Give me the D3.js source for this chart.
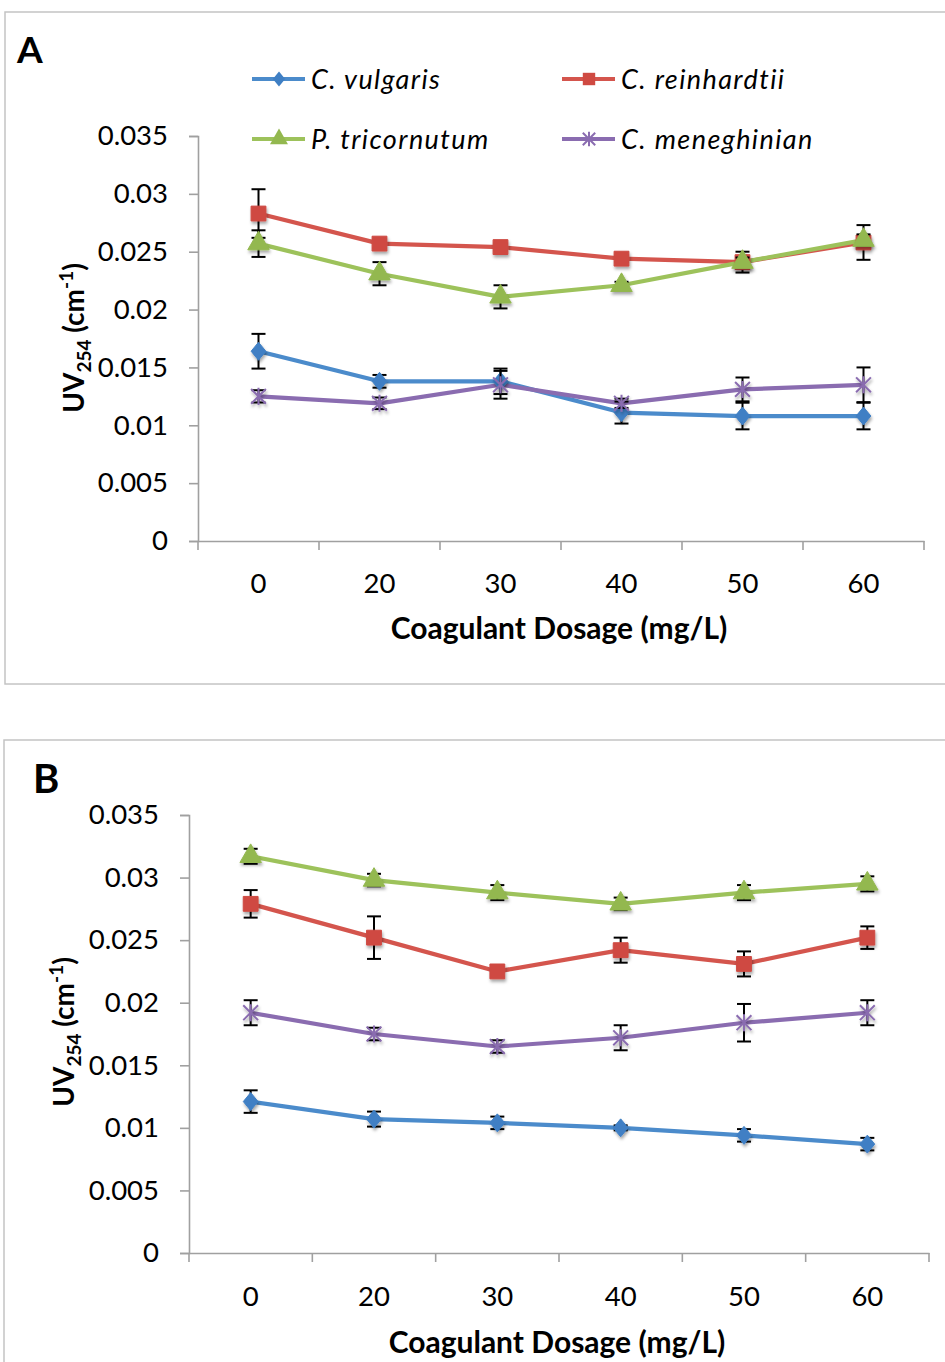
<!DOCTYPE html>
<html>
<head>
<meta charset="utf-8">
<script src="https://cdn.jsdelivr.net/npm/d3@7"></script>
<style>
  html, body { margin: 0; padding: 0; background: #ffffff; }
  svg { display: block; }
  text { font-family: Lato, "Open Sans", sans-serif; fill: #000; }
</style>
</head>
<body>
<script>
// Coagulant dosage categories (mg/L)
const dosages = ["0", "20", "30", "40", "50", "60"];

// Y-axis ticks and their labels
const yTickValues = [0, 0.005, 0.01, 0.015, 0.02, 0.025, 0.03, 0.035];
const yTickLabels = ["0", "0.005", "0.01", "0.015", "0.02", "0.025", "0.03", "0.035"];

// Species names (legend order)
const species = ["C. vulgaris", "C. reinhardtii", "P. tricornutum", "C. meneghinian"];

// Panel A: mean UV254 and error (±) per dosage
const vulgarisA      = [0.0164, 0.0138, 0.0138, 0.0111, 0.0108, 0.0108];
const vulgarisAErr   = [0.0015, 0.00055, 0.0011, 0.00095, 0.00115, 0.00115];
const reinhardtiiA   = [0.0283, 0.0257, 0.0254, 0.0244, 0.0241, 0.0258];
const reinhardtiiAErr= [0.0021, 0.0004, 0.0003, 0.0003, 0.0009, 0.0015];
const tricornutumA   = [0.0257, 0.0231, 0.0211, 0.0221, 0.0241, 0.0260];
const tricornutumAErr= [0.00115, 0.0010, 0.0010, 0.0003, 0.0004, 0.0005];
const meneghinianA   = [0.0125, 0.0119, 0.0135, 0.0119, 0.0131, 0.0135];
const meneghinianAErr= [0.00053, 0.0005, 0.0012, 0.0004, 0.00103, 0.0015];

// Panel B: mean UV254 and error (±) per dosage
const vulgarisB      = [0.0121, 0.0107, 0.0104, 0.0100, 0.0094, 0.0087];
const vulgarisBErr   = [0.0009, 0.0006, 0.0005, 0.0002, 0.0005, 0.0005];
const reinhardtiiB   = [0.0279, 0.0252, 0.0225, 0.0242, 0.0231, 0.0252];
const reinhardtiiBErr= [0.0011, 0.0017, 0.0004, 0.0010, 0.0010, 0.0009];
const tricornutumB   = [0.0317, 0.0298, 0.0288, 0.0279, 0.0288, 0.0295];
const tricornutumBErr= [0.0006, 0.0005, 0.0006, 0.0005, 0.0006, 0.0006];
const meneghinianB   = [0.0192, 0.0175, 0.0165, 0.0172, 0.0184, 0.0192];
const meneghinianBErr= [0.0010, 0.0005, 0.0005, 0.0010, 0.0015, 0.0010];

const colors = ["#4b8bcb", "#d4554d", "#9dc25b", "#8a6cb0"];
const markerFill = ["#3f7fc4", "#cf4a42", "#93b84f", "#8a6cb0"];

// Star marker (x with a vertical stroke), used for the fourth series
const symbolStar = {
  draw(ctx, size) {
    const r = Math.sqrt(size) / 2;
    ctx.moveTo(-r, -r); ctx.lineTo(r, r);
    ctx.moveTo(-r, r); ctx.lineTo(r, -r);
    ctx.moveTo(0, -r * 1.15); ctx.lineTo(0, r * 1.15);
  }
};
// Taller diamond
const symbolTallDiamond = {
  draw(ctx, size) {
    const h = Math.sqrt(size) * 0.62, w = h * 0.82;
    ctx.moveTo(0, -h); ctx.lineTo(w, 0); ctx.lineTo(0, h); ctx.lineTo(-w, 0); ctx.closePath();
  }
};
const symbolTypes = [symbolTallDiamond, d3.symbolSquare, d3.symbolTriangle, symbolStar];
const symbolSizes = [210, 220, 200, 220];

const svg = d3.select("body").append("svg")
  .attr("width", 945).attr("height", 1362);

const defs = svg.append("defs");
const shadow = defs.append("filter").attr("id", "shadow")
  .attr("x", "-50%").attr("y", "-50%").attr("width", "200%").attr("height", "200%");
shadow.append("feDropShadow").attr("dx", 1).attr("dy", 2.5)
  .attr("stdDeviation", 1.6).attr("flood-color", "#000").attr("flood-opacity", 0.35);

function marker(g, i, x, y) {
  const p = g.append("path")
    .attr("transform", `translate(${x},${y})`)
    .attr("d", d3.symbol().type(symbolTypes[i]).size(symbolSizes[i])())
    .attr("filter", "url(#shadow)");
  if (i === 3) {
    p.attr("fill", "none").attr("stroke", markerFill[i]).attr("stroke-width", 2);
  } else {
    p.attr("fill", markerFill[i]).attr("stroke", markerFill[i]).attr("stroke-width", 1);
  }
  return p;
}

function drawPanel(cfg) {
  const g = svg.append("g");

  // panel frame
  g.append("rect")
    .attr("x", cfg.frame[0]).attr("y", cfg.frame[1])
    .attr("width", cfg.frame[2]).attr("height", cfg.frame[3])
    .attr("fill", "#fff").attr("stroke", "#c4c4c4").attr("stroke-width", 1.5);

  const x = d3.scaleBand().domain(dosages).range([cfg.x0, cfg.x1]).padding(0);
  const y = d3.scaleLinear().domain([0, 0.035]).range([cfg.yBottom, cfg.yTop]);
  const cx = d => x(d) + x.bandwidth() / 2;

  // y axis
  const yAxis = g.append("g")
    .attr("transform", `translate(${cfg.x0},0)`)
    .call(d3.axisLeft(y).tickValues(yTickValues).tickSize(9).tickPadding(21)
      .tickFormat((d, i) => yTickLabels[i]));
  yAxis.select(".domain").attr("stroke", "#a0a0a0").attr("stroke-width", 1.6);
  yAxis.selectAll(".tick line").attr("stroke", "#a0a0a0").attr("stroke-width", 1.6);
  yAxis.selectAll(".tick text").attr("font-size", 27.5).attr("font-family", "Lato").attr("fill", "#000");

  // x axis: labels centered on categories, tick marks on category boundaries
  const xAxis = g.append("g")
    .attr("transform", `translate(0,${cfg.yBottom})`)
    .call(d3.axisBottom(x).tickSize(0).tickPadding(cfg.xLabelPad));
  xAxis.select(".domain").attr("stroke", "#a0a0a0").attr("stroke-width", 1.6);
  xAxis.selectAll(".tick text").attr("font-size", 27.5).attr("font-family", "Lato").attr("fill", "#000");
  const bounds = dosages.map(d => x(d)).concat([x(dosages[dosages.length - 1]) + x.bandwidth()]);
  xAxis.selectAll("line.bound").data(bounds).join("line")
    .attr("class", "bound")
    .attr("x1", d => d).attr("x2", d => d)
    .attr("y1", 0).attr("y2", 9)
    .attr("stroke", "#a0a0a0").attr("stroke-width", 1.6);

  // axis titles
  g.append("text")
    .attr("x", (cfg.x0 + cfg.x1) / 2 + cfg.xTitleShift).attr("y", cfg.xTitleY)
    .attr("text-anchor", "middle").attr("font-size", 30).attr("font-weight", 700)
    .text("Coagulant Dosage (mg/L)");

  const yt = g.append("text")
    .attr("transform", `translate(${cfg.yTitleX},${cfg.yTitleY}) rotate(-90)`)
    .attr("text-anchor", "middle").attr("font-size", 28).attr("font-weight", 700);
  yt.append("tspan").text("UV");
  yt.append("tspan").attr("font-size", 19).attr("dy", 7).text("254");
  yt.append("tspan").attr("dy", -7).text(" (cm");
  yt.append("tspan").attr("font-size", 19).attr("dy", -11).text("-1");
  yt.append("tspan").attr("dy", 11).text(")");

  // panel letter
  g.append("text")
    .attr("x", cfg.letterX).attr("y", cfg.letterY)
    .attr("font-size", cfg.letterSize).attr("font-weight", 700)
    .attr("font-family", cfg.letterFont)
    .text(cfg.letter);

  const line = d3.line().x((d, i) => cx(dosages[i])).y(d => y(d));

  // lines
  cfg.series.forEach((s, i) => {
    g.append("path").datum(s.values)
      .attr("d", line).attr("fill", "none")
      .attr("stroke", colors[i]).attr("stroke-width", 4.2)
      .attr("stroke-linejoin", "round");
  });

  // error bars and markers, series by series
  cfg.series.forEach((s, i) => {
    const eb = g.append("g");
    s.values.forEach((v, j) => {
      const xc = cx(dosages[j]);
      const yt0 = y(v + s.err[j]), yb0 = y(v - s.err[j]);
      eb.append("line").attr("x1", xc).attr("x2", xc).attr("y1", yt0).attr("y2", yb0)
        .attr("stroke", "#000").attr("stroke-width", 2);
      [yt0, yb0].forEach(yy => eb.append("line")
        .attr("x1", xc - 7).attr("x2", xc + 7).attr("y1", yy).attr("y2", yy)
        .attr("stroke", "#000").attr("stroke-width", 2));
    });
    s.values.forEach((v, j) => marker(g, i, cx(dosages[j]), y(v)));
  });

  // legend
  if (cfg.legend) {
    const cols = [252, 562], rows = [79, 139];
    species.forEach((name, i) => {
      const lx = cols[i % 2], ly = rows[Math.floor(i / 2)];
      const lg = g.append("g");
      lg.append("line").attr("x1", lx).attr("x2", lx + 53).attr("y1", ly).attr("y2", ly)
        .attr("stroke", colors[i]).attr("stroke-width", 4.2);
      const m = lg.append("path")
        .attr("transform", `translate(${lx + 27},${ly})`)
        .attr("d", d3.symbol().type(symbolTypes[i]).size(symbolSizes[i] * 0.7)());
      if (i === 3) m.attr("fill", "none").attr("stroke", markerFill[i]).attr("stroke-width", 2);
      else m.attr("fill", markerFill[i]);
      lg.append("text").attr("x", lx + 59).attr("y", ly + 10)
        .attr("font-size", 27).attr("letter-spacing", 1.4)
        .attr("font-style", "italic").text(name);
    });
  }
}

drawPanel({
  frame: [5, 12, 960, 672],
  x0: 198, x1: 924, yTop: 136, yBottom: 541,
  xLabelPad: 32,
  xTitleY: 639, xTitleShift: -2,
  yTitleX: 84, yTitleY: 338,
  letter: "A", letterX: 17, letterY: 63, letterSize: 37, letterFont: "Lato",
  legend: true,
  series: [
    { values: vulgarisA, err: vulgarisAErr },
    { values: reinhardtiiA, err: reinhardtiiAErr },
    { values: tricornutumA, err: tricornutumAErr },
    { values: meneghinianA, err: meneghinianAErr }
  ]
});

drawPanel({
  frame: [4, 740, 960, 640],
  x0: 189, x1: 929, yTop: 815, yBottom: 1253,
  xLabelPad: 33,
  xTitleY: 1353, xTitleShift: -2,
  yTitleX: 74, yTitleY: 1032,
  letter: "B", letterX: 33, letterY: 793, letterSize: 40, letterFont: "Liberation Serif",
  legend: false,
  series: [
    { values: vulgarisB, err: vulgarisBErr },
    { values: reinhardtiiB, err: reinhardtiiBErr },
    { values: tricornutumB, err: tricornutumBErr },
    { values: meneghinianB, err: meneghinianBErr }
  ]
});
</script>
</body>
</html>
